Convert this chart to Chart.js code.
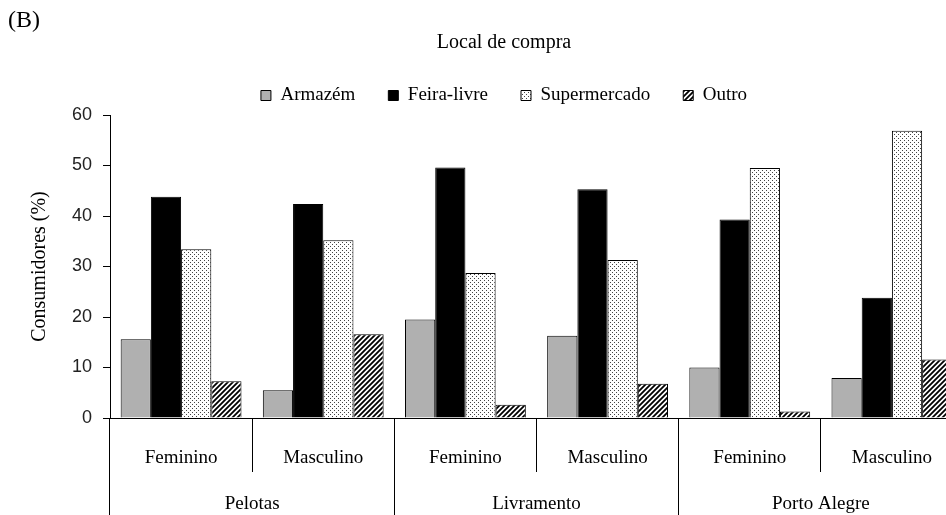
<!DOCTYPE html>
<html>
<head>
<meta charset="utf-8">
<script src="https://cdn.jsdelivr.net/npm/chart.js@4"></script>
<style>
  html, body { margin: 0; padding: 0; background: #fff; overflow: hidden; }
  #wrap { width: 946px; height: 515px; overflow: hidden; }
</style>
</head>
<body>
<div id="wrap"><canvas id="chart" width="1000" height="515"></canvas></div>
<script>
// Data
const subLabels = ['Feminino', 'Masculino', 'Feminino', 'Masculino', 'Feminino', 'Masculino'];
const cityLabels = ['Pelotas', 'Livramento', 'Porto Alegre'];

const armazem      = [15.6, 5.5, 19.5, 16.3, 10.0, 7.9];
const feiraLivre   = [43.8, 42.4, 49.6, 45.3, 39.3, 23.8];
const supermercado = [33.4, 35.2, 28.7, 31.3, 49.5, 56.9];
const outro        = [7.3, 16.6, 2.6, 6.8, 1.3, 11.6];

const yTicks = [0, 10, 20, 30, 40, 50, 60];

const serif = '"Liberation Serif", "Times New Roman", serif';
const sans = '"Liberation Sans", Arial, sans-serif';

// Fill patterns (dots for Supermercado, diagonal hatch for Outro)
function dotPattern() {
    const c = document.createElement('canvas');
    c.width = 4; c.height = 4;
    const g = c.getContext('2d');
    g.fillStyle = '#fff';
    g.fillRect(0, 0, 4, 4);
    g.fillStyle = '#444';
    g.fillRect(0, 0, 1, 1);
    g.fillRect(2, 2, 1, 1);
    return g.createPattern(c, 'repeat');
}

function hatchPattern() {
    const s = 5;
    const c = document.createElement('canvas');
    c.width = s; c.height = s;
    const g = c.getContext('2d');
    g.fillStyle = '#fff';
    g.fillRect(0, 0, s, s);
    g.strokeStyle = '#000';
    g.lineWidth = 1.8;
    g.beginPath();
    g.moveTo(0, s); g.lineTo(s, 0);
    g.moveTo(-1, 1); g.lineTo(1, -1);
    g.moveTo(s - 1, s + 1); g.lineTo(s + 1, s - 1);
    g.stroke();
    return g.createPattern(c, 'repeat');
}

const ctx = document.getElementById('chart').getContext('2d');

const barStyle = {
    borderColor: '#000',
    borderWidth: 1,
    categoryPercentage: 0.85,
    barPercentage: 1.0
};

new Chart(ctx, {
    type: 'bar',
    data: {
        labels: subLabels,
        datasets: [
            Object.assign({ label: 'Armazém', data: armazem, backgroundColor: '#b0b0b0' }, barStyle),
            Object.assign({ label: 'Feira-livre', data: feiraLivre, backgroundColor: '#000' }, barStyle),
            Object.assign({ label: 'Supermercado', data: supermercado, backgroundColor: dotPattern() }, barStyle),
            Object.assign({ label: 'Outro', data: outro, backgroundColor: hatchPattern() }, barStyle)
        ]
    },
    options: {
        responsive: false,
        animation: false,
        devicePixelRatio: 1,
        layout: { padding: { top: 0, left: 8, right: 0, bottom: 0 } },
        plugins: {
            title: {
                display: true,
                text: '(B)',
                align: 'start',
                color: '#000',
                font: { family: serif, size: 24, weight: 'normal', lineHeight: 1 },
                padding: { top: 9, bottom: 0 }
            },
            subtitle: {
                display: true,
                text: 'Local de compra',
                color: '#000',
                font: { family: serif, size: 20, weight: 'normal', lineHeight: 1 },
                padding: { top: 0, bottom: 0 }
            },
            legend: {
                display: true,
                labels: {
                    boxWidth: 10,
                    boxHeight: 10,
                    padding: 33,
                    color: '#000',
                    font: { family: serif, size: 19 }
                }
            },
            tooltip: { enabled: false }
        },
        scales: {
            // sub-group axis: Feminino / Masculino
            x: {
                type: 'category',
                position: 'bottom',
                afterFit: s => { s.height = 51; },
                border: { display: true, color: '#000', width: 1 },
                grid: { offset: true, drawOnChartArea: false, color: '#000', tickLength: 54 },
                ticks: { color: '#000', font: { family: serif, size: 19 }, padding: -25, maxRotation: 0, autoSkip: false }
            },
            // city axis below it
            x2: {
                type: 'category',
                position: 'bottom',
                labels: cityLabels,
                afterFit: s => { s.height = 46; },
                border: { display: false },
                grid: { offset: true, drawOnChartArea: false, color: '#000', tickLength: 46 },
                ticks: { color: '#000', font: { family: serif, size: 19 }, padding: -22, maxRotation: 0, autoSkip: false }
            },
            y: {
                min: yTicks[0],
                max: yTicks[yTicks.length - 1],
                afterFit: s => { s.width = 102; },
                afterBuildTicks: s => { s.ticks = yTicks.map(v => ({ value: v })); },
                border: { display: true, color: '#000', width: 1 },
                grid: { drawOnChartArea: false, color: '#000', tickLength: 7 },
                ticks: { color: '#222', font: { family: sans, size: 18 }, padding: 11 },
                title: {
                    display: true,
                    text: 'Consumidores (%)',
                    color: '#000',
                    font: { family: serif, size: 20 },
                    padding: { top: 20, bottom: 0 }
                }
            },
            // empty right axis, only reserves room so the plot runs past the window edge
            yRight: {
                position: 'right',
                display: true,
                afterFit: s => { s.width = 37; },
                grid: { display: false },
                border: { display: false },
                ticks: { display: false }
            }
        }
    }
});
</script>
</body>
</html>
